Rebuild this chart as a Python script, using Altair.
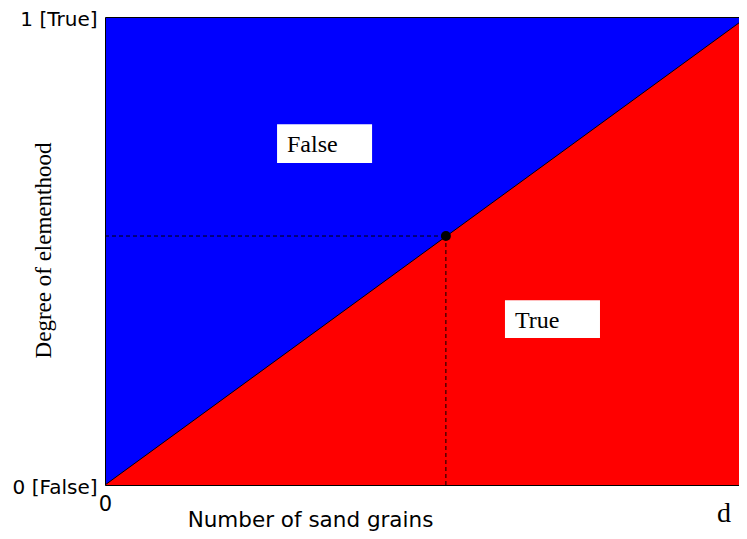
import altair as alt
import pandas as pd

# --- data ---
line_x = [0, 1]
line_y = [0, 1]
point_x = [0.531]
point_y = [0.532]
y_ticks = [0, 1]
y_tick_labels = ["0 [False]", "1 [True]"]
x_ticks = [0]
x_tick_labels = ["0"]
box_labels = ["False", "True"]
box_x = [0.268, 0.623]
box_x2 = [0.416, 0.771]
box_y = [0.688, 0.314]
box_y2 = [0.771, 0.395]
text_x = [0.2835, 0.6386]
text_y = [0.7115, 0.3355]
corner_label = ["d"]

sx = alt.Scale(domain=[0, 1], nice=False, zero=False)
sy = alt.Scale(domain=[0, 1], nice=False, zero=False)

y_label_expr = " : ".join(
    [f"datum.value == {v} ? '{t}'" for v, t in zip(y_ticks, y_tick_labels)]
) + " : ''"
x_label_expr = " : ".join(
    [f"datum.value == {v} ? '{t}'" for v, t in zip(x_ticks, x_tick_labels)]
) + " : ''"

x_axis = alt.Axis(
    values=x_ticks, labelExpr=x_label_expr, ticks=False, domain=False, grid=False,
    labelFont="DejaVu Sans", labelFontSize=21, labelColor="black", labelPadding=8,
    labelFlush=False,
    title="Number of sand grains", titleFont="DejaVu Sans", titleFontSize=21.5,
    titleFontWeight="normal", titleColor="black", titleX=205, titleY=41,
    titleAlign="center", titleBaseline="alphabetic",
)
y_axis = alt.Axis(
    values=y_ticks, labelExpr=y_label_expr, ticks=False, domain=False, grid=False,
    labelFont="DejaVu Sans", labelFontSize=20, labelColor="black", labelPadding=8,
    labelBaseline="middle", labelOffset=2,
    title="Degree of elementhood", titleFont="Liberation Serif", titleFontSize=23,
    titleFontWeight="normal", titleColor="black", titleX=-55, titleY=233,
    titleAngle=270, titleAlign="center", titleBaseline="alphabetic",
)

line_df = pd.DataFrame({"x": line_x, "y": line_y})

area = alt.Chart(line_df).mark_area(color="red", opacity=1).encode(
    x=alt.X("x:Q", scale=sx, axis=x_axis),
    y=alt.Y("y:Q", scale=sy, axis=y_axis, stack=None),
)
diag = alt.Chart(line_df).mark_line(color="black", strokeWidth=1).encode(
    x=alt.X("x:Q", scale=sx), y=alt.Y("y:Q", scale=sy)
)

rules_df = pd.DataFrame({
    "x": [0, point_x[0]],
    "x2": [point_x[0], point_x[0]],
    "y": [point_y[0], 0],
    "y2": [point_y[0], point_y[0]],
})
rules = alt.Chart(rules_df).mark_rule(color="black", strokeWidth=1, strokeDash=[4, 3]).encode(
    x=alt.X("x:Q", scale=sx), x2="x2:Q", y=alt.Y("y:Q", scale=sy), y2="y2:Q"
)

pt = alt.Chart(pd.DataFrame({"x": point_x, "y": point_y})).mark_circle(
    color="black", opacity=1, size=100
).encode(x=alt.X("x:Q", scale=sx), y=alt.Y("y:Q", scale=sy))

boxes_df = pd.DataFrame({"label": box_labels, "x": box_x, "x2": box_x2, "y": box_y, "y2": box_y2,
                         "tx": text_x, "ty": text_y})
boxes = alt.Chart(boxes_df).mark_rect(color="white", opacity=1).encode(
    x=alt.X("x:Q", scale=sx), x2="x2:Q", y=alt.Y("y:Q", scale=sy), y2="y2:Q"
)
box_text = alt.Chart(boxes_df).mark_text(
    align="left", baseline="alphabetic", font="Liberation Serif", fontSize=24, color="black"
).encode(x=alt.X("tx:Q", scale=sx), y=alt.Y("ty:Q", scale=sy), text="label:N")

corner = alt.Chart(pd.DataFrame({"t": corner_label})).mark_text(
    align="left", baseline="alphabetic", font="Liberation Serif", fontSize=28, color="black"
).encode(x=alt.value(612), y=alt.value(505), text="t:N")

chart = alt.layer(area, diag, rules, pt, boxes, box_text, corner).properties(
    width=642, height=468,
    autosize=alt.AutoSizeParams(type="none"),
    padding={"left": 97, "top": 9, "right": -8, "bottom": 46},
).configure_view(fill="blue", stroke="black", strokeWidth=1)

chart.save("out.html", embed_options={"renderer": "svg", "actions": False})
